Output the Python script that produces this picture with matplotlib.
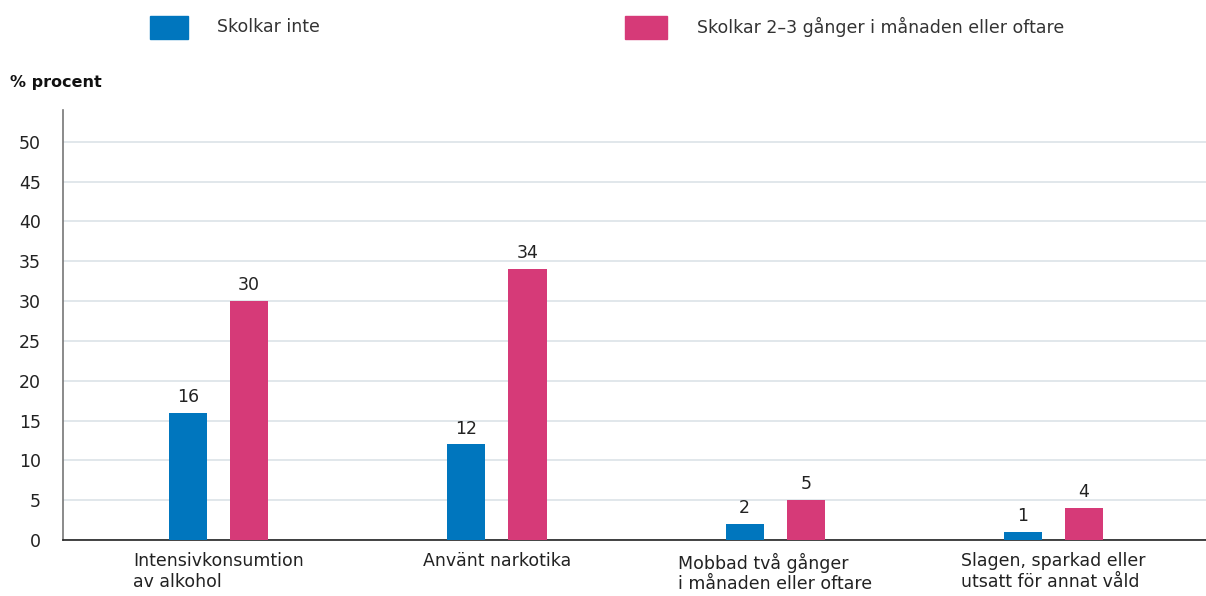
import matplotlib
matplotlib.use("Agg")
import matplotlib.pyplot as plt
import numpy as np
from matplotlib.patches import Rectangle

plt.rcParams['font.family'] = ['DejaVu Sans']

categories = ["Intensivkonsumtion\nav alkohol", "Använt narkotika",
              "Mobbad två gånger\ni månaden eller oftare",
              "Slagen, sparkad eller\nutsatt för annat våld"]
series_names = ["Skolkar inte", "Skolkar 2–3 gånger i månaden eller oftare"]
skolkar_inte = [16, 12, 2, 1]
skolkar_ofta = [30, 34, 5, 4]
yticks = list(range(0, 55, 5))

blue = "#0076BE"
pink = "#D63A78"
W, H = 1206, 596

fig = plt.figure(figsize=(W / 100, H / 100), dpi=100)
ax = fig.add_axes([63 / W, 56 / H, (1206 - 63) / W, (540 - 110) / H])

x = np.arange(len(categories))
bw = 0.137
off = 0.11
b1 = ax.bar(x - off, skolkar_inte, bw, color=blue, zorder=3)
b2 = ax.bar(x + off, skolkar_ofta, bw, color=pink, zorder=3)
for bars in (b1, b2):
    for r in bars:
        ax.annotate(f"{r.get_height():g}", (r.get_x() + r.get_width() / 2, r.get_height()),
                    xytext=(0, 5), textcoords="offset points", ha="center", va="bottom",
                    fontsize=12.5, color="#222222")

ax.set_xlim(-0.559, 3.548)
ax.set_ylim(0, 54)
ax.set_yticks(yticks)
ax.set_yticklabels([str(t) for t in yticks], fontsize=12.5, color="#222222")
ax.set_xticks(x)
ax.set_xticklabels(categories, fontsize=12.5, color="#222222", multialignment="left",
                   va="top", linespacing=1.2)
ax.tick_params(axis="both", length=0)
ax.tick_params(axis="y", pad=16)
ax.tick_params(axis="x", pad=9)
ax.grid(axis="y", color="#DCE3E8", linewidth=1.2, zorder=0)
for s in ("top", "right"):
    ax.spines[s].set_visible(False)
ax.spines["left"].set_color("#777777")
ax.spines["left"].set_linewidth(1.2)
ax.spines["bottom"].set_color("#222222")
ax.spines["bottom"].set_linewidth(1.2)

# legend
fig.add_artist(Rectangle((150 / W, 1 - 39 / H), 38 / W, 23 / H, color=blue, transform=fig.transFigure))
fig.text(217 / W, 1 - 27 / H, series_names[0], fontsize=12.5, color="#333333", va="center")
fig.add_artist(Rectangle((625 / W, 1 - 39 / H), 42 / W, 23 / H, color=pink, transform=fig.transFigure))
fig.text(697 / W, 1 - 27 / H, series_names[1], fontsize=12.5, color="#333333", va="center")

fig.text(10 / W, 1 - 82 / H, "% procent", fontsize=11.5, fontweight="bold", color="#111111", va="center")

fig.savefig("out.png", dpi=100)
